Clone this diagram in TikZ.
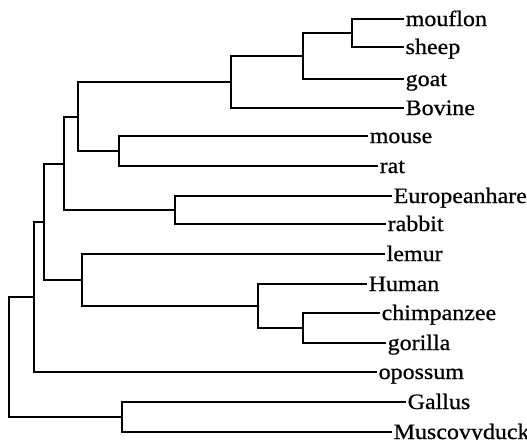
\documentclass[tikz,border=0pt]{standalone}
\usepackage{fontspec}
\setmainfont[FakeStretch=1.09,FakeBold=0.7]{Liberation Serif}
\tikzset{
  leaf/.style={anchor=west,inner sep=1.5pt,text height=15pt,text depth=1pt,
    font=\fontsize{22}{26}\selectfont},
  branch/.style={line width=2pt}
}
\begin{document}
\begin{tikzpicture}[x=1pt,y=-1pt]
   \useasboundingbox (0,0) rectangle (527,439);
   % leaves
   \node[leaf] (mouflon) at (404,19) {mouflon};
   \node[leaf] (sheep) at (404,47) {sheep};
   \node[leaf] (goat) at (404,79) {goat};
   \node[leaf] (bovine) at (404,108) {Bovine};
   \node[leaf] (mouse) at (368,136) {mouse};
   \node[leaf] (rat) at (378,166) {rat};
   \node[leaf] (hare) at (392,196) {Europeanhare};
   \node[leaf] (rabbit) at (386,224) {rabbit};
   \node[leaf] (lemur) at (385,254) {lemur};
   \node[leaf] (human) at (367,284) {Human};
   \node[leaf] (chimp) at (380,313) {chimpanzee};
   \node[leaf] (gorilla) at (386,343) {gorilla};
   \node[leaf] (opossum) at (377,372) {opossum};
   \node[leaf] (gallus) at (406,402) {Gallus};
   \node[leaf] (duck) at (392,432) {Muscovyduck};
   % inner nodes
   \coordinate (ovis) at (352,33);
   \coordinate (caprinae) at (303,56);
   \coordinate (bovidae) at (231,82);
   \coordinate (murinae) at (119,151);
   \coordinate (cetrod) at (78,117);
   \coordinate (lago) at (175,210);
   \coordinate (glires) at (64,164);
   \coordinate (apes) at (303,328);
   \coordinate (hominid) at (258,306);
   \coordinate (primates) at (82,280);
   \coordinate (eutheria) at (44,222);
   \coordinate (mammalia) at (34,297);
   \coordinate (aves) at (122,417);
   \coordinate (root) at (9,357);
   % branches
   \draw[branch] (ovis) |- (mouflon.west) (ovis) |- (sheep.west);
   \draw[branch] (caprinae) |- (ovis) (caprinae) |- (goat.west);
   \draw[branch] (bovidae) |- (caprinae) (bovidae) |- (bovine.west);
   \draw[branch] (murinae) |- (mouse.west) (murinae) |- (rat.west);
   \draw[branch] (cetrod) |- (bovidae) (cetrod) |- (murinae);
   \draw[branch] (lago) |- (hare.west) (lago) |- (rabbit.west);
   \draw[branch] (glires) |- (cetrod) (glires) |- (lago);
   \draw[branch] (apes) |- (chimp.west) (apes) |- (gorilla.west);
   \draw[branch] (hominid) |- (human.west) (hominid) |- (apes);
   \draw[branch] (primates) |- (lemur.west) (primates) |- (hominid);
   \draw[branch] (eutheria) |- (glires) (eutheria) |- (primates);
   \draw[branch] (mammalia) |- (eutheria) (mammalia) |- (opossum.west);
   \draw[branch] (aves) |- (gallus.west) (aves) |- (duck.west);
   \draw[branch] (root) |- (mammalia) (root) |- (aves);
\end{tikzpicture}
\end{document}
